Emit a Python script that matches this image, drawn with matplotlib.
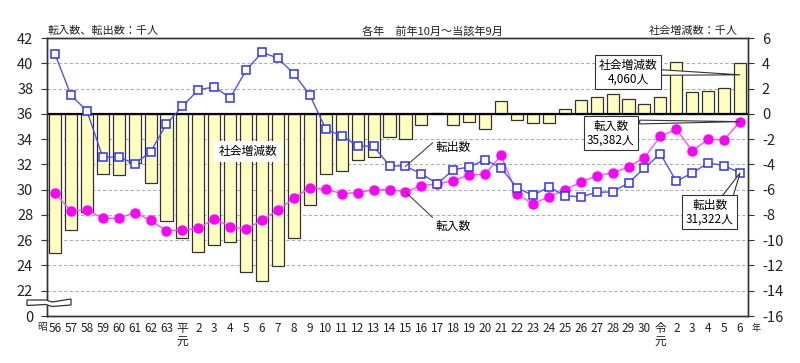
import numpy as np
import matplotlib.pyplot as plt
from matplotlib.patches import Polygon

plt.rcParams['font.family'] = ['Noto Sans CJK JP', 'DejaVu Sans']

# -------------------
# DATA (千人)
# -------------------
years = ["56", "57", "58", "59", "60", "61", "62", "63", "平\n元",
         "2", "3", "4", "5", "6", "7", "8", "9", "10", "11", "12", "13", "14",
         "15", "16", "17", "18", "19", "20", "21", "22", "23", "24", "25", "26",
         "27", "28", "29", "30", "令\n元", "2", "3", "4", "5", "6"]

tennyu = [29.74, 28.32, 28.40, 27.74, 27.72, 28.19, 27.56, 26.74, 26.80, 26.93,
          27.69, 27.08, 26.85, 27.61, 28.37, 29.32, 30.16, 30.03, 29.69, 29.77,
          29.98, 30.00, 29.82, 30.32, 30.45, 30.71, 31.16, 31.21, 32.71, 29.63,
          28.90, 29.42, 29.98, 30.58, 31.11, 31.32, 31.79, 32.53, 34.21, 34.79,
          33.08, 33.97, 33.95, 35.382]

tenshutsu = [40.74, 37.48, 36.24, 32.58, 32.58, 32.05, 32.98, 35.20, 36.60, 37.90,
             38.13, 37.26, 39.45, 40.87, 40.40, 39.16, 37.48, 34.79, 34.24, 33.47,
             33.42, 31.90, 31.84, 31.27, 30.45, 31.58, 31.79, 32.37, 31.71, 30.14,
             29.55, 30.21, 29.53, 29.42, 29.79, 29.82, 30.53, 31.71, 32.84, 30.66,
             31.32, 32.11, 31.90, 31.322]

shakai = [-11.00, -9.16, -7.79, -4.74, -4.87, -3.89, -5.45, -8.45, -9.81, -10.92,
          -10.37, -10.16, -12.50, -13.26, -12.02, -9.84, -7.24, -4.74, -4.53, -3.66,
          -3.42, -1.87, -2.00, -0.87, 0.05, -0.87, -0.66, -1.18, 1.05, -0.47,
          -0.71, -0.76, 0.37, 1.13, 1.34, 1.55, 1.21, 0.79, 1.34, 4.08,
          1.71, 1.84, 2.03, 4.060]

left_ticks = [20, 22, 24, 26, 28, 30, 32, 34, 36, 38, 40, 42]
left_labels = ["0"] + [str(t) for t in left_ticks[1:]]
right_ticks = list(range(-16, 7, 2))

x = np.arange(len(years))

# -------------------
# PLOT
# -------------------
fig = plt.figure(figsize=(8, 3.63), dpi=100)
ax = fig.add_axes([47 / 800, 1 - 316 / 363, 701 / 800, 278 / 363])

# bars on the base axes (right scale)
ax.set_xlim(-0.5, 43.5)
ax.set_ylim(-16, 6)
for g in right_ticks[1:-1]:
    if g != 0:
        ax.axhline(g, color="#b0b0b0", ls=(0, (3, 2)), lw=0.8, zorder=0)
ax.bar(x, shakai, width=0.76, color="#FFFFC0", edgecolor="#333333",
       linewidth=0.9, zorder=2)
ax.axhline(0, color="black", lw=1.6, zorder=3)

ax.set_xticks(x)
ax.set_xticklabels(years, fontsize=8.5, linespacing=1.05, va="top")
ax.tick_params(axis="x", length=0, pad=4, labelcolor="#222222")

# lines on the twin axes (left scale)
ax2 = ax.twinx()
ax2.set_ylim(20, 42)

ax.yaxis.tick_right()
ax.yaxis.set_label_position("right")
ax.set_yticks(right_ticks)
ax.set_yticklabels([str(t) for t in right_ticks])
ax.tick_params(axis="y", direction="out", length=4, pad=6, labelsize=10.5,
               colors="#333333", labelcolor="#222222")

ax2.yaxis.tick_left()
ax2.yaxis.set_label_position("left")
ax2.set_yticks(left_ticks)
ax2.set_yticklabels(left_labels)
ax2.tick_params(axis="y", direction="out", length=4, pad=6, labelsize=10.5,
                colors="#333333", labelcolor="#222222")

ax2.plot(x, tenshutsu, color="#5050FF", lw=1, marker="s", ms=6,
         mfc="white", mec="#3030FF", mew=1.1, zorder=5)
ax2.plot(x, tennyu, color="#FF50FF", lw=1, marker="o", ms=6.5,
         mfc="#FF00FF", mec="#FF00FF", zorder=4)

for a in (ax, ax2):
    for s in a.spines.values():
        s.set_color("#333333")
        s.set_linewidth(1)

# -------------------
# LABELS
# -------------------
fig.text(48 / 800, 1 - 31 / 363, "転入数、転出数：千人", fontsize=8, va="center", color="#222222")
fig.text(432 / 800, 1 - 31 / 363, "各年　前年10月～当該年9月", fontsize=8, va="center",
         ha="center", color="#222222")
fig.text(649 / 800, 1 - 31 / 363, "社会増減数：千人", fontsize=8, va="center", color="#222222")
fig.text(42 / 800, 1 - 327 / 363, "昭", fontsize=7, ha="center", va="center", color="#222222")
fig.text(756 / 800, 1 - 329 / 363, "年", fontsize=6.5, ha="center", va="center", color="#222222")

# axis break mark
verts = [(27, 300), (46, 300), (52, 302), (71, 299), (71, 305), (52, 306.5), (46, 304.5),
         (27, 305.5), (27, 300)]
verts = [(vx / 800, 1 - vy / 363) for vx, vy in verts]
brk = Polygon(verts, closed=True, facecolor="white", edgecolor="#333333", lw=0.9,
              transform=fig.transFigure, clip_on=False, zorder=10)
fig.add_artist(brk)

ax2.text(12.1, 33.0, "社会増減数", fontsize=8.5, ha="center", va="center", zorder=6,
         bbox=dict(boxstyle="square,pad=0.35", fc="white", ec="none"))

# plain labels with lines
n = 22
ax2.plot([n, 23.7], [tenshutsu[n], 33.7], color="#444444", lw=0.8, zorder=6)
ax2.text(23.9, 33.3, "転出数", fontsize=8.5, va="center", zorder=6)
ax2.plot([n, 23.7], [tennyu[n], 27.8], color="#444444", lw=0.8, zorder=6)
ax2.text(23.9, 27.1, "転入数", fontsize=8.5, va="center", zorder=6)

# callout boxes for latest year
last = len(years) - 1


def callout(tx, ty, text, wedge):
    ax2.add_patch(Polygon(wedge, closed=True, fc="white", ec="#333333", lw=0.8,
                          zorder=7))
    ax2.text(tx, ty, text, fontsize=8.5, ha="center", va="center", zorder=8,
             linespacing=1.1,
             bbox=dict(boxstyle="square,pad=0.3", fc="white", ec="#333333", lw=0.8))


callout(35.97, 39.3, "社会増減数\n4,060人",
        [(37.9, 39.05), (last, 36 + shakai[last] * 0.76), (37.9, 39.5)])
callout(34.9, 34.45, "転入数\n35,382人",
        [(36.7, 35.2), (last, tennyu[last]), (36.7, 35.5)])
callout(41.1, 28.2, "転出数\n31,322人",
        [(41.7, 29.2), (last, tenshutsu[last]), (42.5, 29.2)])

fig.savefig("out.png", dpi=100)
